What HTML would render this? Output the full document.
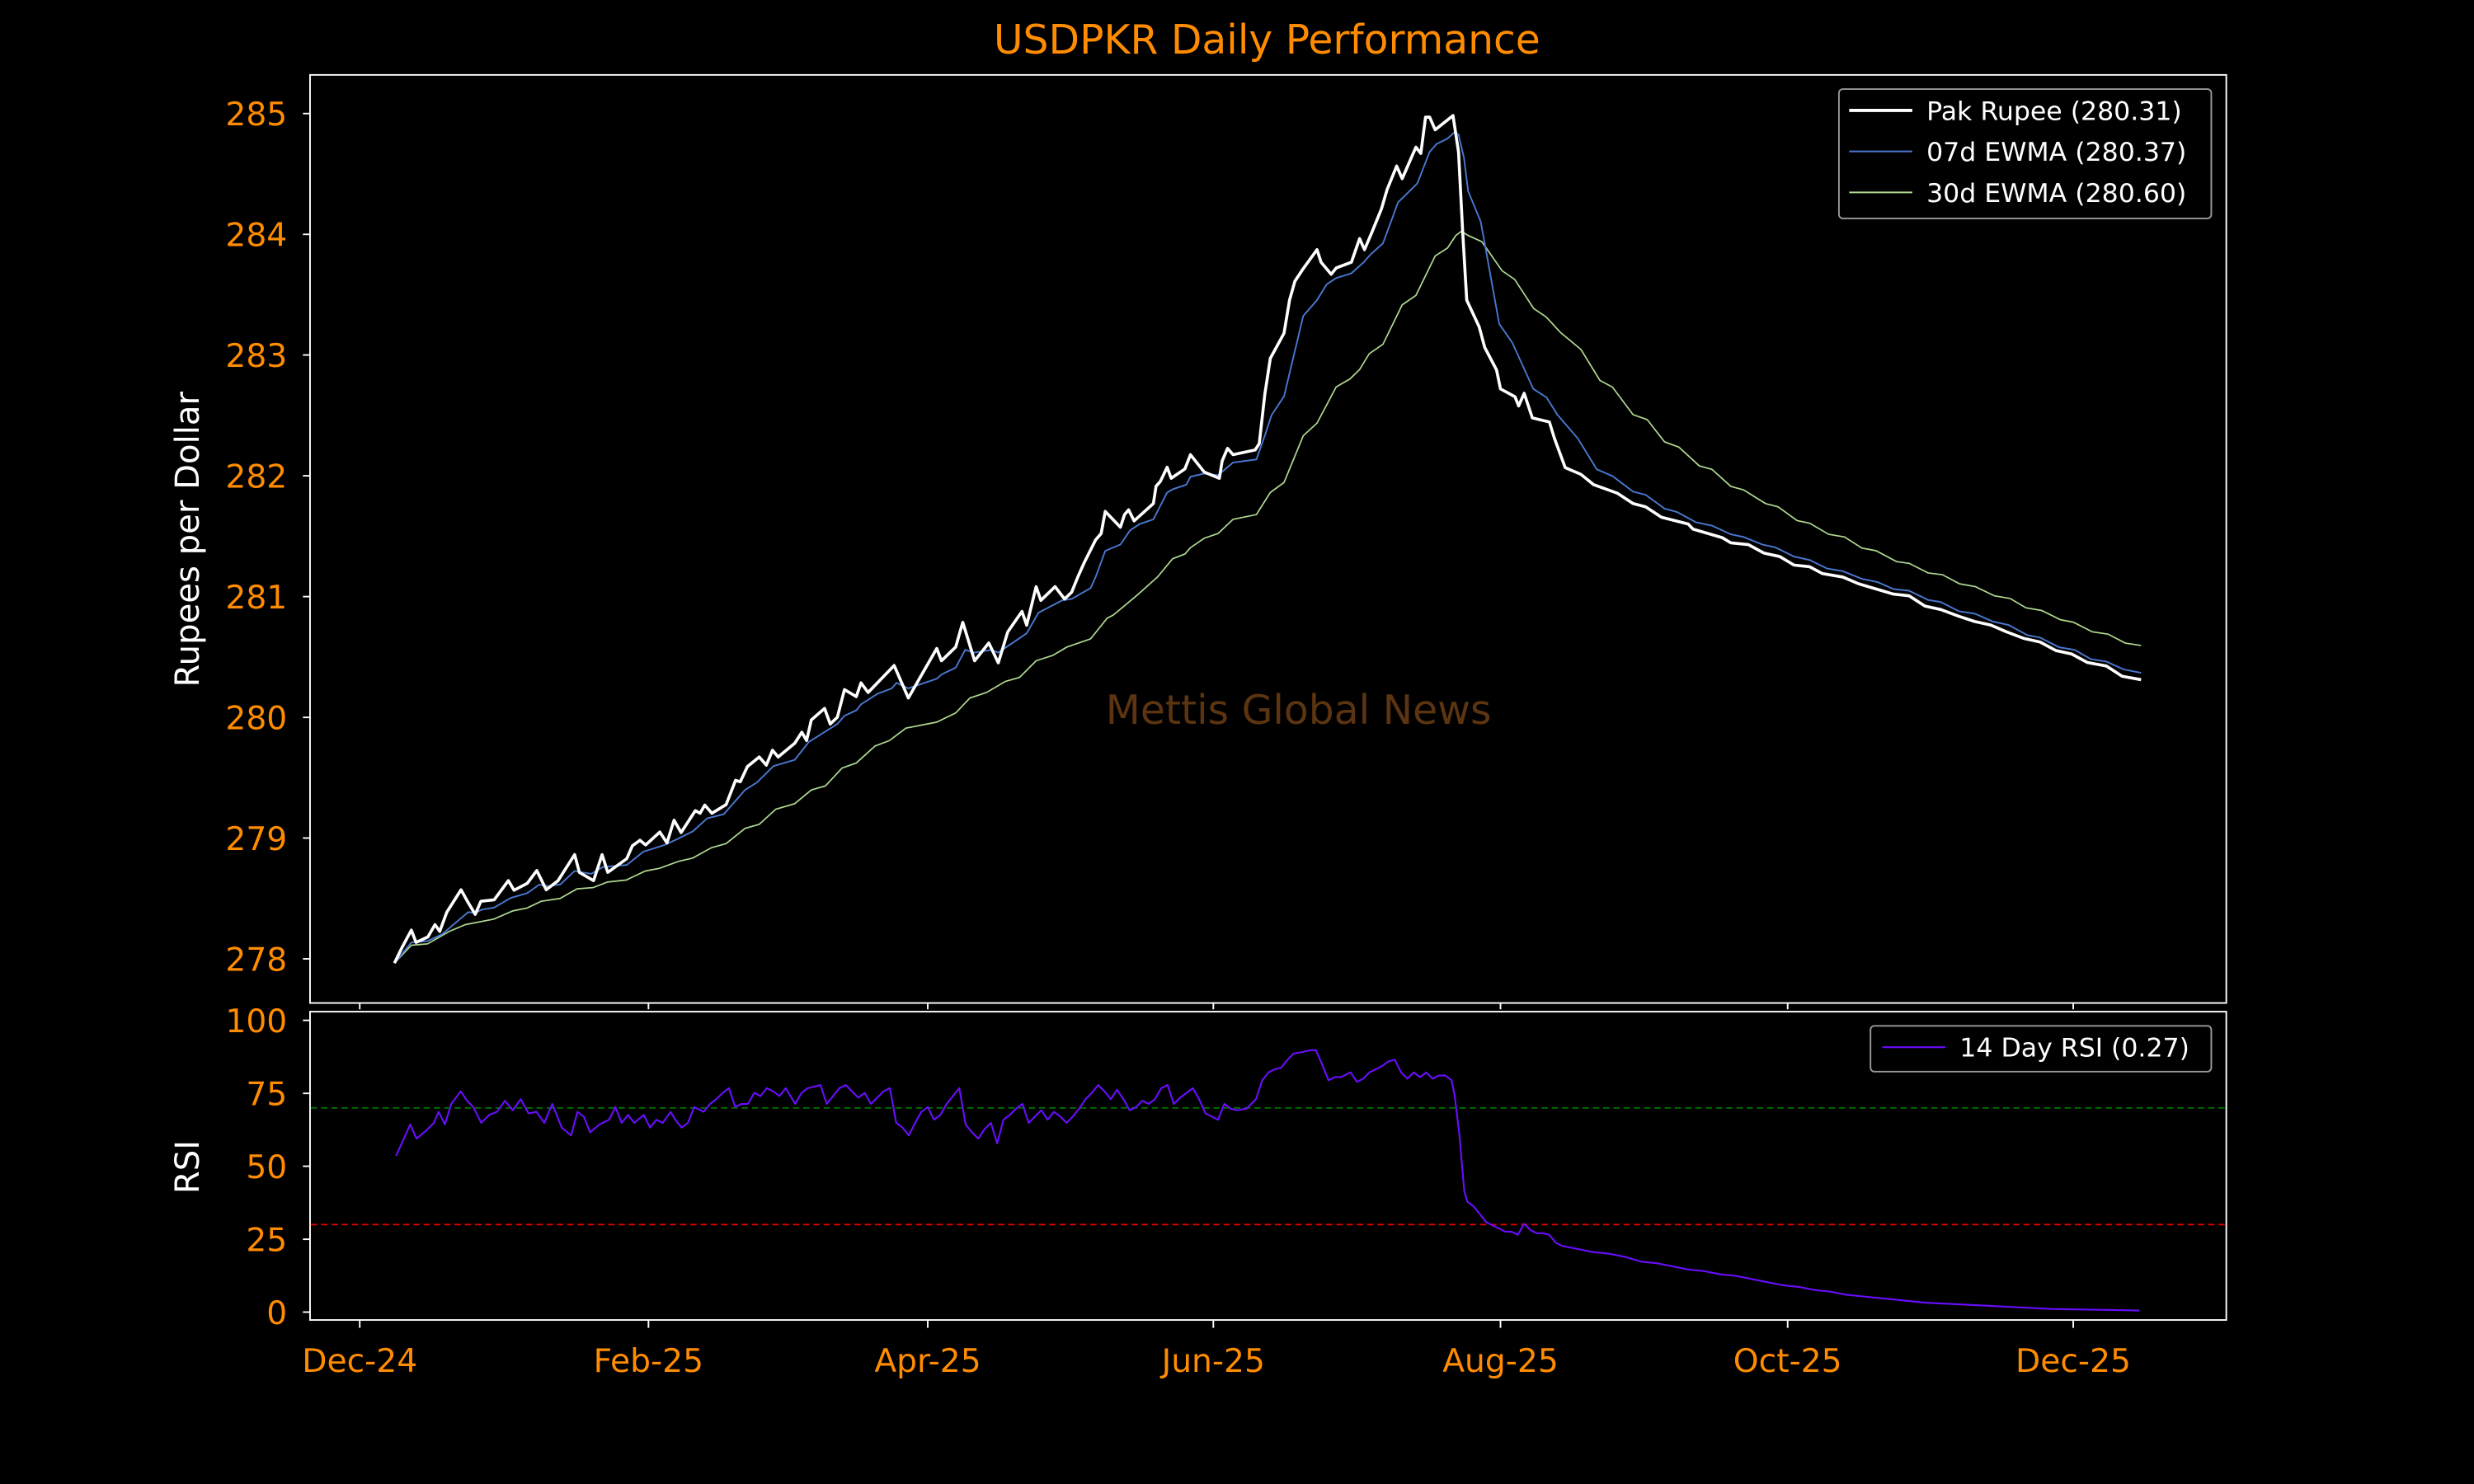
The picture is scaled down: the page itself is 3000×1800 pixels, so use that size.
<!DOCTYPE html>
<html><head><meta charset="utf-8"><style>html,body{margin:0;padding:0;background:#000;}svg{display:block}</style></head>
<body>
<svg width="3000" height="1800" viewBox="0 0 1568 941" preserveAspectRatio="none" xmlns="http://www.w3.org/2000/svg" font-family="DejaVu Sans, Liberation Sans, sans-serif">
<rect width="1568" height="941" fill="#000"/>
<text x="803" y="34" fill="#ff8c00" font-size="25.5" text-anchor="middle">USDPKR Daily Performance</text>
<text x="823" y="459" fill="#5c3510" font-size="25.5" text-anchor="middle">Mettis Global News</text>
<!-- main axes -->
<rect x="196.5" y="47.5" width="1214.5" height="588.5" fill="none" stroke="#fff" stroke-width="1"/>
<g stroke="#fff" stroke-width="1">
<line x1="192" x2="196" y1="72" y2="72"/><line x1="192" x2="196" y1="148.6" y2="148.6"/><line x1="192" x2="196" y1="225.1" y2="225.1"/><line x1="192" x2="196" y1="301.7" y2="301.7"/><line x1="192" x2="196" y1="378.3" y2="378.3"/><line x1="192" x2="196" y1="454.9" y2="454.9"/><line x1="192" x2="196" y1="531.4" y2="531.4"/><line x1="192" x2="196" y1="608" y2="608"/>
<line x1="228" x2="228" y1="636" y2="640"/><line x1="411" x2="411" y1="636" y2="640"/><line x1="588" x2="588" y1="636" y2="640"/><line x1="769" x2="769" y1="636" y2="640"/><line x1="951" x2="951" y1="636" y2="640"/><line x1="1133" x2="1133" y1="636" y2="640"/><line x1="1314" x2="1314" y1="636" y2="640"/>
</g>
<g fill="#ff8c00" font-size="20.5" text-anchor="end">
<text x="182" y="79.5">285</text><text x="182" y="156.1">284</text><text x="182" y="232.6">283</text><text x="182" y="309.2">282</text><text x="182" y="385.8">281</text><text x="182" y="462.4">280</text><text x="182" y="538.9">279</text><text x="182" y="615.5">278</text>
</g>
<text transform="translate(126,342) rotate(-90)" fill="#fff" font-size="21" text-anchor="middle">Rupees per Dollar</text>
<polyline fill="none" stroke="#b0d890" stroke-width="0.9" points="250,610.7 260.7,599.4 271,598.5 284.7,590.6 295,586.3 313,582.8 325,577.6 334,575.8 343,571.5 355,569.7 365.7,563.6 376,562.8 385,559.3 397,558 409,552.3 418,550.6 430,546.2 439,544.1 451,537.5 460.2,534.9 472.2,525.3 481.2,522.7 491.7,513.1 503.7,509.6 514.2,500.9 523.2,498.3 533.7,487 542.7,483.8 554.7,473 563.7,469.6 574.2,461.7 593.7,457.9 605.7,452.1 614.7,442.6 625.2,439.1 637.2,432.1 646.2,429.5 656.7,419 667.2,415.6 676.2,410.3 691.2,405.1 701.7,392 705.6,390 720,378 733.6,365.9 743.2,354.3 751,351.3 754.5,347.3 763.2,341.3 772,338.3 781.5,329.3 796.3,326.3 805.1,312.3 813.8,305.9 826,276.3 834.7,268.3 846.9,245.3 855.6,240.3 861.7,234.3 867.8,224.3 876.5,218.3 888.7,193.3 897.4,187.3 909.6,162.3 917.4,157.3 922.7,149.3 926.2,146.7 930.5,149.3 939.2,153.3 952,171.7 960,177.2 972,195.6 980,201 989,210.8 1002,221.6 1014,241.2 1022,245.5 1035,262.9 1044,266.1 1055,280.2 1064,283.5 1077,295.4 1085,297.6 1097,308.4 1105,310.6 1119,319.3 1127,321.4 1139,330.1 1147,331.8 1159,338.8 1169,340.5 1180,347.5 1189,349.2 1202,356.1 1210,357.2 1222,363.3 1231,364.4 1242,370.2 1252,372 1264,377.8 1274,379.5 1284,385.4 1294,387.1 1306,393 1314,394.5 1326,400.6 1336,402.1 1347,407.8 1357,409.3"/>
<polyline fill="none" stroke="#4a78d0" stroke-width="1" points="250,610.7 260.7,597.6 271,596.7 280.2,592.4 296.7,578.4 301.2,578.8 305.7,576.7 313.2,575.5 323.7,569.4 334.2,566.3 341.7,561 347.7,561.9 355.2,560.7 364.2,552.3 374.7,554.1 382.2,549.7 397.2,548.5 407.7,540.1 421.2,535.8 428.7,532.3 439.2,527.1 448.2,518.9 458.7,516.3 472.2,500.9 479.7,496.2 490.2,485.8 503.7,481.8 512.7,470.4 530.7,459.1 535.2,453.9 542.7,450.4 545.7,446.6 556.2,439.9 565.2,436.5 568.2,433 575.7,436.5 593.7,430.4 596.7,427.7 605.7,423.4 611.7,412.1 617.7,413.8 628.2,412.1 632.7,413.8 650.7,401.6 658.2,388.5 673.2,380.7 679.2,379.8 691.2,372.9 694.4,365.9 700.5,349.3 710.1,345.3 716.2,336.3 722.3,332.3 731,329.3 739.7,312.3 743.2,310.3 751.9,307.3 754.5,302.3 763.2,300.3 772,301.3 781.5,293.3 796.3,291.3 801.6,276.3 805.9,263.3 813.8,251.3 826,200.3 834.7,190.3 840.8,180.3 846.9,176.3 856.5,173.3 864.3,166.3 868.7,161.3 876.5,154.3 886.1,128.3 898.3,116.3 906.1,96.3 910.5,91.3 917.4,87.9 921.8,83.9 924.4,85.3 927.9,100.3 930.5,121.3 938.4,140.3 941,154.3 950.2,205.4 958.5,217.3 971.8,246.6 980.2,252 987,262.9 1000,278 1012,297.6 1022,301.9 1035,311.7 1043,313.8 1055,322.5 1063,324.7 1075,331.2 1085,333.3 1097,338.8 1105,340.5 1117,345.3 1125,347 1137,352.9 1147,355.1 1158,360.5 1168,362.2 1180,367 1190,369.1 1200,373.5 1210,374.6 1222,380.4 1230,381.7 1241.6,387.6 1251.6,389.1 1263,394.1 1273,396.3 1285,402.8 1293,404.3 1305,410.4 1315,412.1 1325,417.9 1335,419.5 1346,424.5 1357,426.6"/>
<polyline fill="none" stroke="#fff" stroke-width="1.9" stroke-linejoin="round" points="250,610.7 254.7,601 260.7,589.8 263.7,597.6 271.2,594.1 275.7,586.3 278.7,590.6 283.2,578.4 292.2,564.2 296.7,572.3 301.2,579.8 304.8,571.5 313.2,570.6 322.2,558.4 325.8,564.5 334.2,560.1 340.2,552 346.2,564.2 353.7,558.4 364.2,541.9 367.2,553.2 376.2,558.4 381.6,541.9 385.2,553.2 397.2,544.5 400.8,536.3 405.6,532.8 409.2,535.8 418.2,527.6 422.7,534.5 427.2,520.1 431.7,527.9 440.7,514 443.7,515.7 446.7,510.5 451.2,515.7 460.2,510.2 466.2,494.8 469.2,495.7 473.7,486.1 481.2,480 485.7,485.2 489.6,475.7 493.2,480 503.7,471.3 508.2,464.3 511.2,469.6 514.2,456.5 522.6,449.2 526.2,459.1 530.7,454.8 535.2,437.3 542.7,441.7 545.7,433 550.2,439.1 566.7,422 575.7,442.6 593.7,411.2 596.7,419 605.7,410.3 610.2,394.6 617.7,419 626.7,407.7 632.7,420.3 638.7,400.7 647.7,387.7 650.7,396.4 656.7,372 659.7,380.7 668.7,372 674.7,379.8 679.2,375.5 683.1,365.9 687.4,356.3 694.4,342.3 697.9,338.3 700.5,324.3 710.1,334.3 712.7,326.3 715.3,323.3 718.8,330.3 731,319.3 732.7,308.3 735.4,305.3 739.7,296.3 742.3,303.3 751,297.3 754.5,288.3 763.2,299.3 772.8,303.3 774.6,292.3 778,284.3 781.5,288.3 795.5,285.3 798.1,281.3 801.6,250.3 805.1,227.3 813.8,211.3 817.3,190.3 820.7,178.3 826,170.3 834.7,158.3 837.3,166.3 843.7,173.9 846.9,169.9 856.5,166.3 861.7,151.3 864.8,158.3 869.5,147.3 875.6,132.3 879.1,120.3 885.2,105.3 888.7,113.3 897.4,93.3 900.5,97.3 903.5,74.3 906.1,74.3 909.6,82.3 920.9,73.3 924.4,96.3 927,146.3 929.6,190.3 937.5,207.3 941,220.3 948.5,234.6 951,246.6 960.2,251.6 962.5,257.4 966,249.4 971.2,265 982,267.6 985.2,278 992,296.5 1002,300.8 1010,307.3 1025,312.7 1035,319.3 1043,321.4 1053,328 1070,332.3 1073,335.5 1091.7,341 1097,344.2 1108,345.3 1118,350.7 1128,352.9 1137,358.3 1147,359.4 1155,363.7 1168,365.9 1178,370.2 1200,376.7 1210,377.8 1220,384.3 1230,386.5 1241.6,390.8 1251.6,394.1 1261.6,396.3 1271.6,400.6 1283,404.9 1293,407.1 1303,412.5 1313,414.7 1323,420.1 1335,422.3 1345,428.8 1357,431"/>
<!-- legend -->
<rect x="1165.5" y="56.5" width="236" height="82" rx="2.5" fill="#000" stroke="#999" stroke-width="1"/>
<line x1="1172" x2="1212" y1="70" y2="70" stroke="#fff" stroke-width="2"/>
<line x1="1172" x2="1212" y1="96" y2="96" stroke="#4a78d0" stroke-width="1"/>
<line x1="1172" x2="1212" y1="122" y2="122" stroke="#b0d890" stroke-width="1"/>
<g fill="#fff" font-size="16.5"><text x="1221" y="76">Pak Rupee (280.31)</text><text x="1221" y="102">07d EWMA (280.37)</text><text x="1221" y="128">30d EWMA (280.60)</text></g>
<!-- RSI axes -->
<rect x="196.5" y="641.5" width="1214.5" height="195.5" fill="none" stroke="#fff" stroke-width="1"/>
<line x1="197" x2="1411" y1="702.5" y2="702.5" stroke="#007000" stroke-width="1" stroke-dasharray="4,2.5"/>
<line x1="197" x2="1411" y1="776.5" y2="776.5" stroke="#e00000" stroke-width="1" stroke-dasharray="4,2.5"/>
<g stroke="#fff" stroke-width="1">
<line x1="192" x2="196" y1="647" y2="647"/><line x1="192" x2="196" y1="693.3" y2="693.3"/><line x1="192" x2="196" y1="739.5" y2="739.5"/><line x1="192" x2="196" y1="785.8" y2="785.8"/><line x1="192" x2="196" y1="832" y2="832"/>
<line x1="228" x2="228" y1="837" y2="842"/><line x1="411" x2="411" y1="837" y2="842"/><line x1="588" x2="588" y1="837" y2="842"/><line x1="769" x2="769" y1="837" y2="842"/><line x1="951" x2="951" y1="837" y2="842"/><line x1="1133" x2="1133" y1="837" y2="842"/><line x1="1314" x2="1314" y1="837" y2="842"/>
</g>
<g fill="#ff8c00" font-size="20.5" text-anchor="end">
<text x="182" y="654.5">100</text><text x="182" y="700.8">75</text><text x="182" y="747">50</text><text x="182" y="793.3">25</text><text x="182" y="839.5">0</text>
</g>
<g fill="#ff8c00" font-size="20.5" text-anchor="middle">
<text x="228" y="870">Dec-24</text><text x="411" y="870">Feb-25</text><text x="588" y="870">Apr-25</text><text x="769" y="870">Jun-25</text><text x="951" y="870">Aug-25</text><text x="1133" y="870">Oct-25</text><text x="1314" y="870">Dec-25</text>
</g>
<text transform="translate(126,740) rotate(-90)" fill="#fff" font-size="21" text-anchor="middle">RSI</text>
<polyline fill="none" stroke="#6a0dff" stroke-width="1.1" stroke-linejoin="round" points="251,733 256,722 260,713 264,722 270,717 275,712 278,705 282,713 286,700 292,692 296,698 300,702 305,712 310,707 315,705 320,698 325,704 330,697 335,706 340,705 345,712 350,700 356,715 362,720 366,705 370,708 374,718 380,713 386,710 390,702 394,712 398,707 402,712 408,707 412,715 416,710 420,712 425,705 428,710 432,715 436,712 440,702 446,705 450,700 454,697 458,693 462,690 466,702 470,700 474,700 478,693 482,695 486,690 490,692 494,695 498,690 504,700 508,693 512,690 516,689 520,688 524,700 528,695 532,690 536,688 540,692 544,696 548,693 552,700 556,696 560,692 564,690 568,712 572,715 576,720 580,712 584,705 588,702 592,710 596,707 600,700 604,695 608,690 612,713 616,718 620,722 624,716 628,712 632,725 636,710 640,707 644,703 648,700 652,712 656,708 660,704 664,710 668,705 672,708 676,712 680,708 684,703 688,697 692,693 696,688 700,692 704,697 708,691 712,697 716,704 720,702 724,698 728,700 732,697 736,690 740,688 744,700 748,696 752,693 756,690 760,697 764,706 768,708 772,710 776,700 780,703 784,704 790,703 796,697 800,685 804,680 808,678 812,677 816,672 820,668 826,667 830,666 834,666 838,675 842,685 846,683 850,683 856,680 860,686 864,684 868,680 872,678 876,676 880,673 884,672 888,680 892,684 896,680 900,683 904,680 908,684 912,682 916,682 920,685 922,695 925,720 928,755 930,762 934,765 938,770 942,775 946,777 950,779 954,781 958,781 962,783 966,776 970,780 974,782 978,782 982,783 986,788 990,790 1000,792 1010,794 1020,795 1030,797 1040,800 1050,801 1060,803 1070,805 1080,806 1090,808 1100,809 1110,811 1120,813 1130,815 1140,816 1150,818 1160,819 1170,821 1180,822 1190,823 1200,824 1220,826 1240,827 1260,828 1280,829 1300,830 1356,831"/>
<rect x="1185.5" y="650.5" width="216" height="29" rx="2.5" fill="#000" stroke="#999" stroke-width="1"/>
<line x1="1193" x2="1233" y1="664" y2="664" stroke="#6a0dff" stroke-width="1.1"/>
<text x="1242" y="670" fill="#fff" font-size="16.5">14 Day RSI (0.27)</text>
</svg>
</body></html>
